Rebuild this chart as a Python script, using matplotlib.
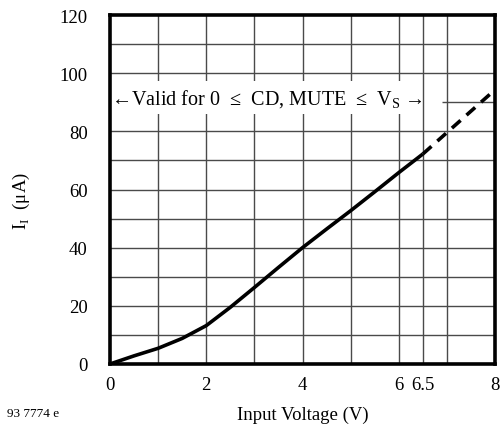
import matplotlib
matplotlib.use("Agg")
import matplotlib.pyplot as plt

plt.rcParams["font.family"] = ["Liberation Serif", "DejaVu Serif"]
plt.rcParams["mathtext.fontset"] = "custom"
plt.rcParams["mathtext.rm"] = "Liberation Serif"

# Measured input current curve (solid part = specified range)
VOLT_SOLID = [0, 0.5, 1.0, 1.5, 2.0, 2.5, 3.0, 3.5, 4.0, 4.5, 5.0, 5.5, 6.0, 6.5]
CURR_SOLID = [0, 2.8, 5.4, 8.8, 13.2, 19.5, 26.3, 33.2, 40.0, 46.4, 52.7, 59.2, 65.8, 72.2]
# Extrapolated part (dashed)
VOLT_DASH = [6.5, 8.0]
CURR_DASH = [72.2, 94.3]

X_TICKS = [0, 2, 4, 6, 6.5, 8]
X_TICK_LABELS = ["0", "2", "4", "6", "6.5", "8"]
Y_TICKS = [0, 20, 40, 60, 80, 100, 120]
X_GRID = [1, 2, 3, 4, 5, 6, 6.5, 7]
Y_GRID = [10, 20, 30, 40, 50, 60, 70, 80, 100, 110]

FS = 13.5
GRID_COLOR = "#4a4a4a"

fig = plt.figure(figsize=(5.0, 4.27), dpi=100)
ax = fig.add_axes([0.22, 0.1452, 0.77, 0.8173])

ax.set_xlim(0, 8)
ax.set_ylim(0, 120)

# grid
ax.hlines(Y_GRID, 0, 8, color=GRID_COLOR, linewidth=1.0, zorder=1)
ax.hlines([90], 6.9, 8, color=GRID_COLOR, linewidth=1.0, zorder=1)
for xv in X_GRID:
    z = 4 if xv == 6.5 else 1
    ax.axvline(xv, color=GRID_COLOR, linewidth=1.0, zorder=z)

ax.text(
    0.02, 91.5,
    "\u2190Valid for 0  \u2264  CD, MUTE  \u2264  V$_{\\mathrm{S}}$ \u2192",
    fontsize=14.5, ha="left", va="center", zorder=3,
    bbox=dict(facecolor="white", edgecolor="none", pad=4),
)

ax.plot(VOLT_SOLID, CURR_SOLID, color="black", linewidth=2.6,
        solid_capstyle="butt", zorder=5)
ax.plot(VOLT_DASH, CURR_DASH, color="black", linewidth=2.6,
        linestyle=(0, (3.2, 2.2)), dash_capstyle="butt", zorder=5)

for spine in ax.spines.values():
    spine.set_linewidth(2.6)
    spine.set_zorder(6)

ax.set_xticks(X_TICKS)
ax.set_xticklabels(X_TICK_LABELS)
ax.set_yticks(Y_TICKS)
ax.tick_params(axis="both", length=0, labelsize=FS)
ax.tick_params(axis="x", pad=9)
ax.tick_params(axis="y", pad=16)

ax.set_xlabel("Input Voltage (V)", fontsize=FS, labelpad=9)
ax.set_ylabel("I$_{\\mathrm{I}}$  (\u03bcA)", fontsize=FS)
ax.yaxis.set_label_coords(-0.203, 0.47)

fig.text(0.014, 0.03, "93 7774 e", fontsize=9.5, ha="left", va="center")

fig.savefig("out.png", dpi=100)
